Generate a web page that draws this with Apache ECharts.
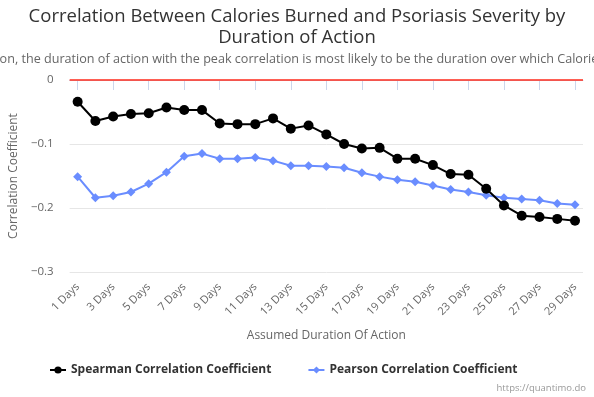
<!DOCTYPE html>
<html><head><meta charset="utf-8">
<script src="https://cdn.jsdelivr.net/npm/echarts@6/dist/echarts.min.js"></script>
<style>html,body{margin:0;padding:0;background:#fff}#c{width:594px;height:397px}</style>
</head><body><div id="c"></div>
<script>
var categories = ["1 Days","2 Days","3 Days","4 Days","5 Days","6 Days","7 Days","8 Days","9 Days","10 Days","11 Days","12 Days","13 Days","14 Days","15 Days","16 Days","17 Days","18 Days","19 Days","20 Days","21 Days","22 Days","23 Days","24 Days","25 Days","26 Days","27 Days","28 Days","29 Days"];
var spearman = [-0.034,-0.064,-0.057,-0.053,-0.052,-0.043,-0.047,-0.047,-0.068,-0.069,-0.069,-0.060,-0.076,-0.071,-0.085,-0.100,-0.107,-0.106,-0.123,-0.123,-0.133,-0.147,-0.148,-0.170,-0.196,-0.212,-0.214,-0.217,-0.220];
var pearson = [-0.151,-0.184,-0.181,-0.175,-0.162,-0.144,-0.119,-0.115,-0.123,-0.123,-0.121,-0.126,-0.134,-0.134,-0.135,-0.137,-0.145,-0.151,-0.156,-0.159,-0.165,-0.171,-0.175,-0.180,-0.184,-0.186,-0.188,-0.193,-0.195];
var yTicks = [-0.3,-0.2,-0.1,0];
var titleText = "Correlation Between Calories Burned and Psoriasis Severity by\nDuration of Action";
var subtitleText = "Assuming a significant causal relation, the duration of action with the peak correlation is most likely to be the duration over which Calories Burned affects Psoriasis Severity";
var seriesNames = ["Spearman Correlation Coefficient","Pearson Correlation Coefficient"];

var FONT = "Open Sans";
var labelIdx = [];
for (var i = 0; i < categories.length; i += 2) labelIdx.push(i + 1);
function pairs(arr){ return arr.map(function(v,i){ return [i+1, v]; }); }

var chart = echarts.init(document.getElementById('c'));
chart.setOption({
  animation:false,
  textStyle:{fontFamily:FONT},
  title:[
    {text:titleText,left:'center',top:1,textStyle:{fontSize:18.5,fontWeight:'normal',color:'#333',lineHeight:21,fontFamily:FONT}},
    {text:subtitleText,left:'center',top:48,textStyle:{fontSize:12.6,fontWeight:'normal',color:'#666',fontFamily:FONT}}
  ],
  grid:{left:68,right:11,top:80,bottom:125,containLabel:false},
  xAxis:{type:'value',min:0.55,max:29.45,
    name:'Assumed Duration Of Action',nameLocation:'middle',nameGap:58,
    nameTextStyle:{fontSize:12,color:'#666',fontFamily:FONT},
    axisLine:{show:true,lineStyle:{color:'#ccd6eb',width:1}},
    axisTick:{show:true,length:10,lineStyle:{color:'#ccd6eb'},customValues:labelIdx},
    axisLabel:{rotate:45,margin:13,fontSize:11,color:'#666',fontFamily:FONT,customValues:labelIdx,
      formatter:function(v){return categories[Math.round(v)-1];}},
    splitLine:{show:false}},
  yAxis:{type:'value',min:yTicks[0],max:yTicks[yTicks.length-1],interval:0.1,
    name:'Correlation Coefficient',nameLocation:'middle',nameGap:45,
    nameTextStyle:{fontSize:12,color:'#666',fontFamily:FONT},
    axisLine:{show:false},axisTick:{show:false},
    axisLabel:{fontSize:11.5,color:'#666',margin:16,fontFamily:FONT,
      formatter:function(v){ if (Math.abs(v)<1e-9) return '0'; return '\u2212'+Math.abs(v).toFixed(1);} },
    splitLine:{lineStyle:{color:'#e6e6e6'}}},
  legend:{left:44,top:359,itemWidth:16,itemHeight:9,itemGap:36,
    textStyle:{fontSize:12,fontWeight:'bold',color:'#333',fontFamily:FONT},
    data:seriesNames},
  graphic:[{type:'text',right:8,bottom:4,style:{text:'https://quantimo.do',fontSize:9.5,fill:'#999',fontFamily:FONT}}],
  series:[
    {name:seriesNames[0],type:'line',data:pairs(spearman),symbol:'circle',symbolSize:10,
      itemStyle:{color:'#000'},lineStyle:{color:'#000',width:2},z:3,
      markLine:{silent:true,symbol:'none',label:{show:false},lineStyle:{color:'#ff2a1a',width:1.5,type:'solid'},data:[{yAxis:0}]}},
    {name:seriesNames[1],type:'line',data:pairs(pearson),symbol:'diamond',symbolSize:9,
      itemStyle:{color:'#6a8dff'},lineStyle:{color:'#6a8dff',width:2},z:2}
  ]
});
</script></body></html>
